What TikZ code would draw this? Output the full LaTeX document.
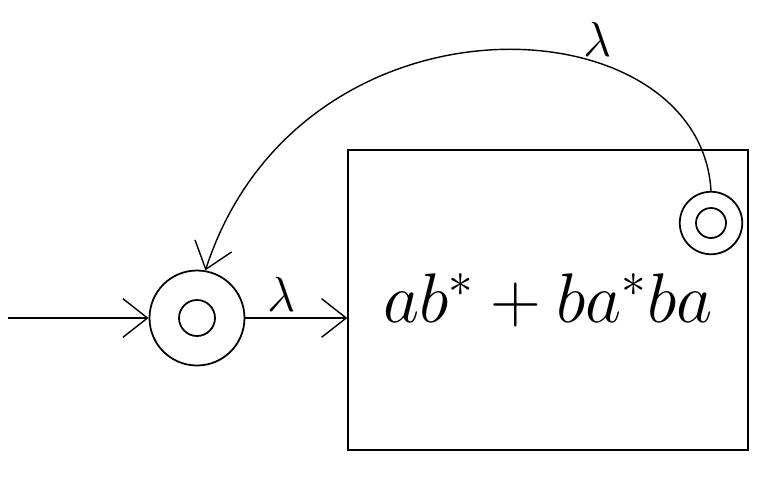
\documentclass[tikz,border=0pt]{standalone}
\usepackage{fix-cm}
\usetikzlibrary{arrows.meta,positioning}

\begin{document}
\begin{tikzpicture}[x=0.02cm,y=-0.02cm, state/.style={draw,circle,line width=1pt,minimum size=1.9cm,inner sep=0pt}, inner/.style={draw,circle,line width=1pt,minimum size=0.72cm,inner sep=0pt}, trans/.style={-{Straight Barb[length=14pt,width=22pt]},line width=0.8pt}, regbox/.style={draw,line width=0.8pt,minimum width=8cm,minimum height=6cm,font=\fontsize{40}{46}\selectfont}, lab/.style={font=\fontsize{28}{32}\selectfont}]
\useasboundingbox (0,0) rectangle (760,477);
\node[regbox] (box) at (548,300) {$ab^*+ba^*ba$};
\node[state] (q0) at (197,318) {};
\node[inner] (q0in) at (q0) {};
\node[state,minimum size=1.25cm] (qf) at (711,223) {};
\node[inner,minimum size=0.6cm] (qfin) at (qf) {};
\coordinate (start) at (8,318);
\draw[trans] (start) -- (q0);
\draw[trans] (q0) -- node[lab,above,pos=0.35]{$\lambda$} (q0 -| box.west);
\draw[trans] (qf.north) .. controls (700,0) and (300,-20) .. node[lab,above,pos=0.33]{$\lambda$} (q0.80);
\end{tikzpicture}
\end{document}
